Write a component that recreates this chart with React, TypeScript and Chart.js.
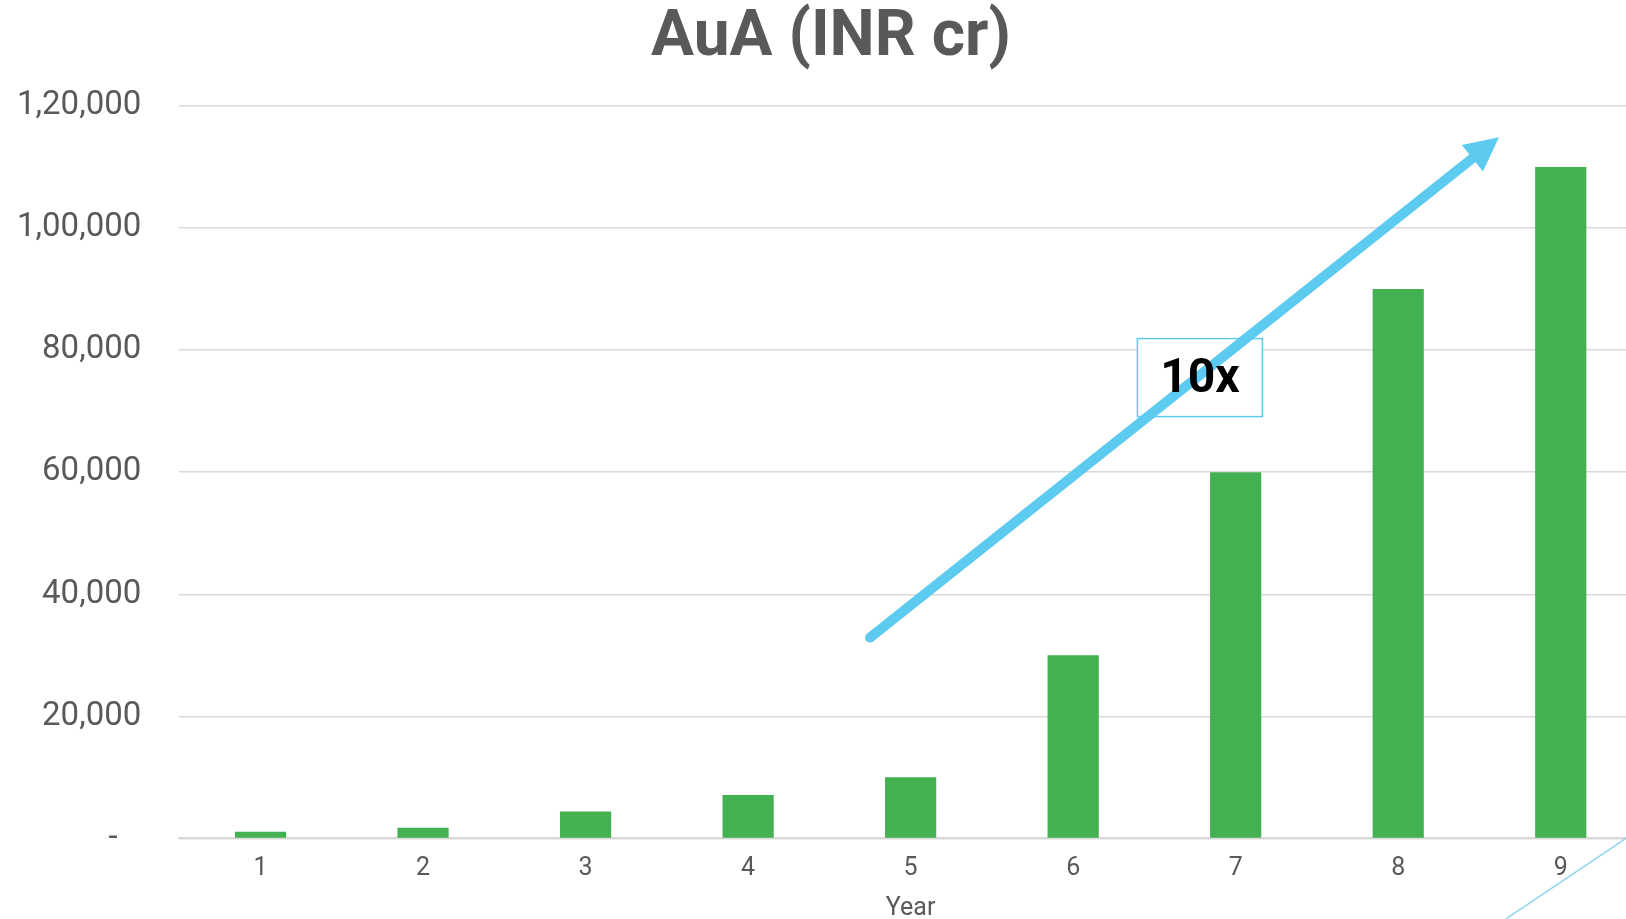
import React, { useEffect, useRef } from "react";
import { Chart, registerables } from "chart.js";

Chart.register(...registerables);

const categories = ["1", "2", "3", "4", "5", "6", "7", "8", "9"];
const auaValues = [1100, 1750, 4400, 7100, 10000, 30000, 60000, 90000, 110000];
const yTickValues = [0, 20000, 40000, 60000, 80000, 100000, 120000];
const yTickLabels = ["-\u2002\u2009", "20,000", "40,000", "60,000", "80,000", "1,00,000", "1,20,000"];
const titleText = "AuA (INR cr)";
const xAxisTitle = "Year";
const growthLabel = "10x";

const GREY = "#595959";
const GREEN = "#43B051";
const BLUE = "#5DCBEF";
const FONT = "Roboto, 'Liberation Sans', sans-serif";

const titleShiftPlugin = {
  id: "titleShift",
  afterLayout(chart: any) {
    const tb = chart.titleBlock;
    if (tb) {
      tb.left += 20.5;
      tb.right += 20.5;
      tb.top += 1;
      tb.bottom += 1;
    }
  },
};

const annotationPlugin = {
  id: "annotations",
  afterDatasetsDraw(chart: any) {
    const ctx = chart.ctx;
    const xs = chart.scales.x;
    const ys = chart.scales.y;
    // growth arrow (anchored to scale coordinates)
    const sx = xs.getPixelForValue(3.75);
    const sy = ys.getPixelForValue(32900);
    const tx = xs.getPixelForValue(7.62);
    const ty = ys.getPixelForValue(114900);
    const dx = tx - sx;
    const dy = ty - sy;
    const len = Math.sqrt(dx * dx + dy * dy);
    const ux = dx / len;
    const uy = dy / len;
    const headLen = 34;
    const headHalf = 17;
    const bx = tx - ux * headLen;
    const by = ty - uy * headLen;

    // label box (white fill, behind arrow)
    const cx = xs.getPixelForValue(5.78);
    const cy = ys.getPixelForValue(75500);
    const bw = 125;
    const bh = 78;
    ctx.save();
    ctx.fillStyle = "#ffffff";
    ctx.fillRect(cx - bw / 2, cy - bh / 2, bw, bh);
    ctx.strokeStyle = BLUE;
    ctx.lineWidth = 1.5;
    ctx.strokeRect(cx - bw / 2, cy - bh / 2, bw, bh);

    ctx.strokeStyle = BLUE;
    ctx.lineWidth = 10;
    ctx.lineCap = "round";
    ctx.beginPath();
    ctx.moveTo(sx, sy);
    ctx.lineTo(bx + ux * 4, by + uy * 4);
    ctx.stroke();

    ctx.fillStyle = BLUE;
    ctx.beginPath();
    ctx.moveTo(tx, ty);
    ctx.lineTo(bx - uy * headHalf, by + ux * headHalf);
    ctx.lineTo(bx + uy * headHalf, by - ux * headHalf);
    ctx.closePath();
    ctx.fill();

    ctx.fillStyle = "#000000";
    ctx.font = `bold 48px ${FONT}`;
    ctx.textAlign = "center";
    ctx.textBaseline = "middle";
    ctx.fillText(growthLabel, cx, cy + 2);

    // thin diagonal line at bottom right
    const ox = chart.chartArea.right;
    const oy = chart.chartArea.bottom;
    ctx.strokeStyle = "#8DD5F2";
    ctx.lineWidth = 1.5;
    ctx.lineCap = "butt";
    ctx.beginPath();
    ctx.moveTo(ox, oy - 10.7);
    ctx.lineTo(ox - 180, oy + 110);
    ctx.stroke();
    ctx.restore();
  },
};

export default function App() {
  const ref = useRef<HTMLCanvasElement | null>(null);

  useEffect(() => {
    if (!ref.current) return;
    const chart = new Chart(ref.current, {
      type: "bar",
      data: {
        labels: categories,
        datasets: [
          {
            label: titleText,
            data: auaValues,
            backgroundColor: GREEN,
            barPercentage: 0.315,
            categoryPercentage: 1,
          },
        ],
      },
      options: {
        responsive: false,
        animation: false,
        layout: { padding: { left: -21, right: 20, top: 0, bottom: 0 } },
        plugins: {
          legend: { display: false },
          tooltip: { enabled: false },
          title: {
            display: true,
            text: titleText,
            color: GREY,
            font: { family: FONT, size: 64, weight: "bold", lineHeight: 1 },
            padding: { top: 6, bottom: 36 },
          },
        },
        scales: {
          x: {
            grid: { display: false, drawTicks: false },
            border: { display: true, color: "#d9d9d9", width: 2 },
            ticks: { color: GREY, font: { family: FONT, size: 25 }, padding: 15.3 },
            title: {
              display: true,
              text: xAxisTitle,
              color: GREY,
              font: { family: FONT, size: 25, lineHeight: 1 },
              padding: { top: -3, bottom: 0 },
            },
          },
          y: {
            min: 0,
            max: 120000,
            afterBuildTicks: (axis: any) => {
              axis.ticks = yTickValues.map((v) => ({ value: v }));
            },
            grid: { color: "#d9d9d9", lineWidth: 1.5, drawTicks: false },
            border: { display: false },
            ticks: {
              color: GREY,
              font: { family: FONT, size: 33 },
              padding: 38,
              callback: (value: any) => {
                const i = yTickValues.indexOf(Number(value));
                return i >= 0 ? yTickLabels[i] : "";
              },
            },
          },
        },
      },
      plugins: [titleShiftPlugin, annotationPlugin],
    });
    return () => chart.destroy();
  }, []);

  return (
    <div
      style={{
        position: "absolute",
        left: 0,
        top: 0,
        width: 1626,
        height: 919,
        overflow: "hidden",
        background: "#ffffff",
      }}
    >
      <canvas ref={ref} width={1662} height={921} style={{ width: 1662, height: 921, display: "block" }} />
    </div>
  );
}
